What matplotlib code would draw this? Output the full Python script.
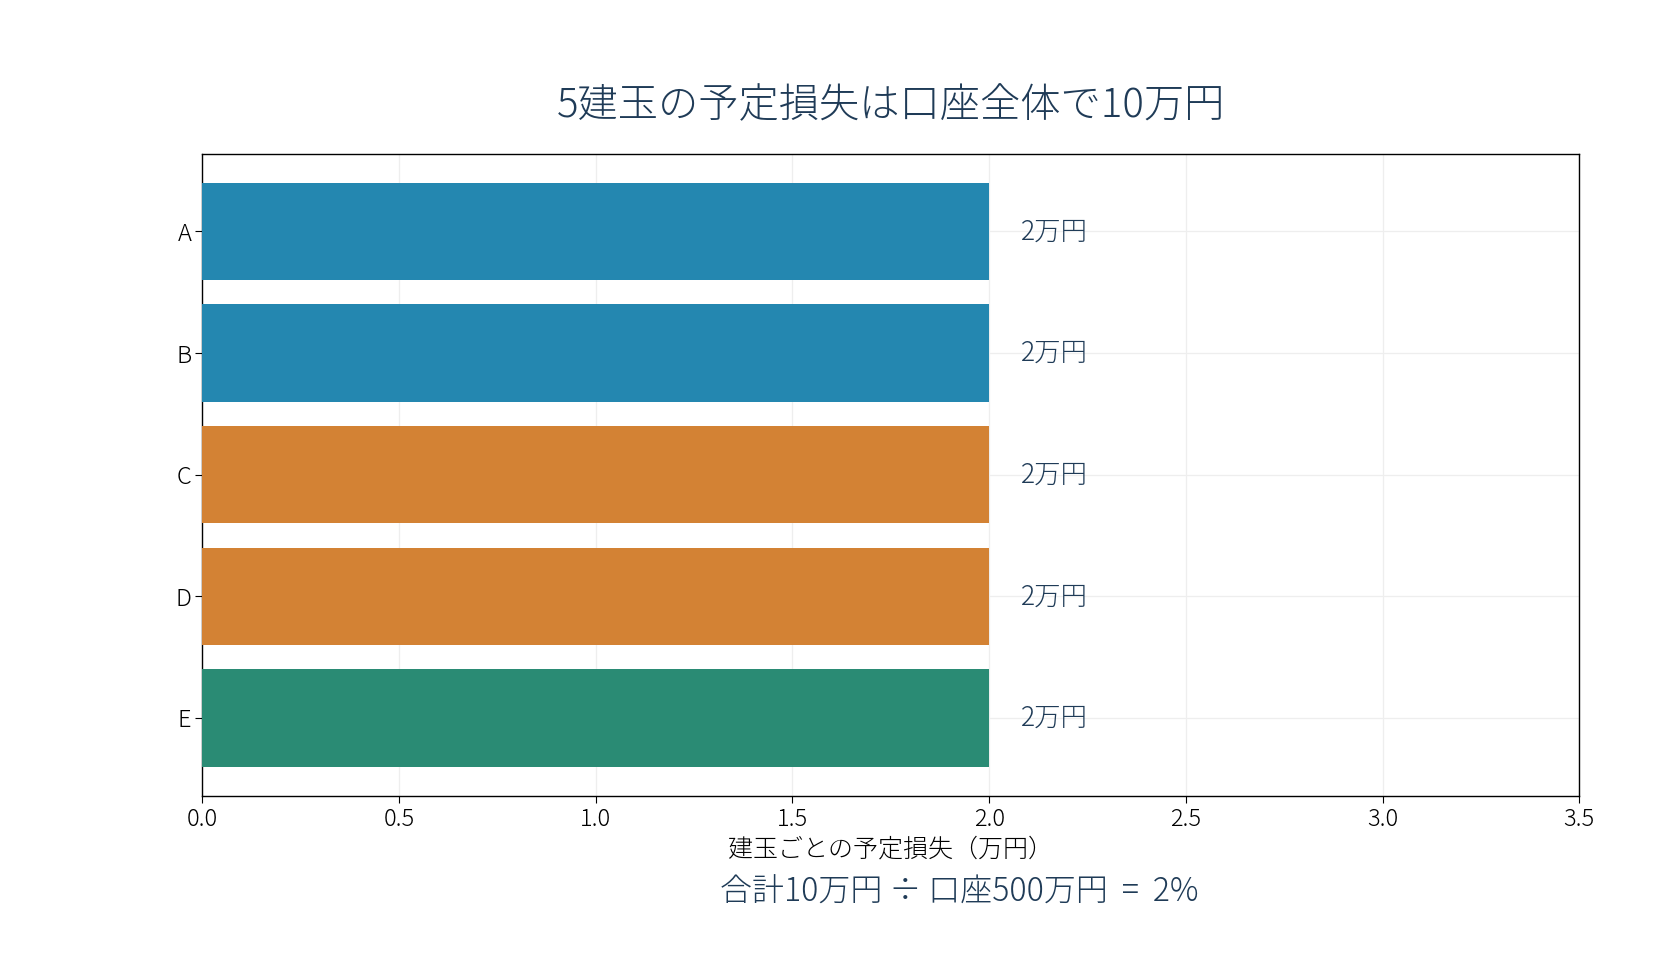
import matplotlib
matplotlib.use("Agg")
import matplotlib.pyplot as plt

plt.rcParams['font.family'] = ['Noto Sans CJK JP', 'DejaVu Sans']
plt.rcParams['font.weight'] = 'light'
plt.rcParams['axes.titleweight'] = 'light'
plt.rcParams['axes.labelweight'] = 'light'

categories = ["A", "B", "C", "D", "E"]
losses = [2, 2, 2, 2, 2]
value_labels = ["2万円", "2万円", "2万円", "2万円", "2万円"]
bar_colors = ["#2487b0", "#2487b0", "#d38234", "#d38234", "#2a8b74"]
x_ticks = [0.0, 0.5, 1.0, 1.5, 2.0, 2.5, 3.0, 3.5]

title = "5建玉の予定損失は口座全体で10万円"
xlabel = "建玉ごとの予定損失（万円）"
subtitle = "合計10万円 ÷ 口座500万円  =  2%"

text_color = "#1f3b57"

fig = plt.figure(figsize=(16.8, 9.6), dpi=100)
ax = fig.add_axes([0.1205, 0.171, 0.8195, 0.669])

y = list(range(len(categories)))
ax.barh(y, losses, color=bar_colors, height=0.8, zorder=3)
for yi, v, lab in zip(y, losses, value_labels):
    ax.text(v + 0.08, yi, lab, va="center", ha="left", fontsize=19,
            color=text_color, fontweight="light", zorder=4)

ax.set_yticks(y)
ax.set_yticklabels(categories)
ax.invert_yaxis()
ax.set_xlim(0, 3.5)
ax.set_xticks(x_ticks)
ax.set_xticklabels([f"{t:.1f}" for t in x_ticks])
ax.tick_params(axis="both", labelsize=17, colors="black", length=5, pad=3)
ax.grid(True, color="#eeeeee", linewidth=0.9, zorder=0)
ax.set_axisbelow(True)
for s in ax.spines.values():
    s.set_color("black")
    s.set_linewidth(1.0)

ax.set_xlabel(xlabel, fontsize=18, color="black", labelpad=3, fontweight="light")
ax.set_title(title, fontsize=29, color=text_color, pad=26, fontweight="light")
fig.text(0.571, 0.0705, subtitle, ha="center", va="center", fontsize=23,
         color=text_color, fontweight="light")

fig.savefig("out.png", dpi=100)
